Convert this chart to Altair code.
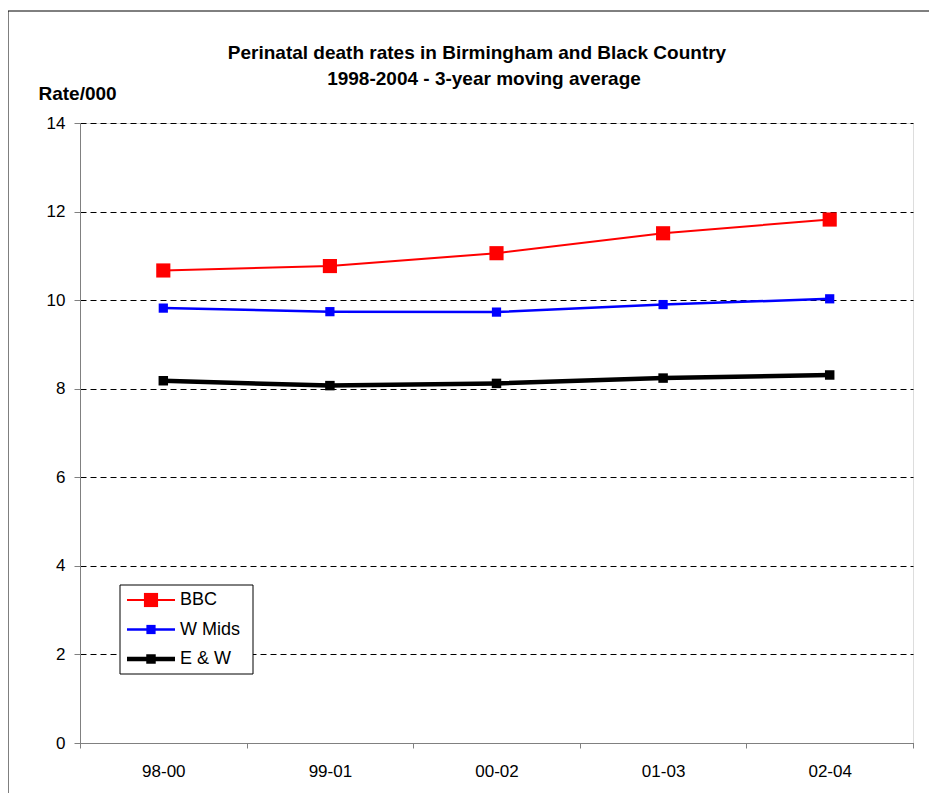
import altair as alt
import pandas as pd

periods = ["98-00", "99-01", "00-02", "01-03", "02-04"]
bbc = [10.67, 10.77, 11.06, 11.51, 11.82]
wmids = [9.82, 9.74, 9.73, 9.90, 10.03]
ew = [8.18, 8.07, 8.12, 8.24, 8.31]
series_names = ["BBC", "W Mids", "E & W"]
y_ticks = [0, 2, 4, 6, 8, 10, 12, 14]

title_lines = ["Perinatal death rates in Birmingham and Black Country",
               "1998-2004  - 3-year moving average"]

FONT = "Liberation Sans"
FS_TICK = 17
FS_TITLE = 19
FS_LEG = 18

styles = {
    "BBC": dict(color="#FF0000", width=2, size=200),
    "W Mids": dict(color="#0000FF", width=2.5, size=85),
    "E & W": dict(color="#000000", width=4.5, size=90),
}

rows = []
for name, vals in zip(series_names, [bbc, wmids, ew]):
    for p, v in zip(periods, vals):
        rows.append({"period": p, "series": name, "rate": v})
df = pd.DataFrame(rows)

W, H = 833, 620

x_enc = alt.X("period:N", sort=periods,
              scale=alt.Scale(type="band", paddingInner=0, paddingOuter=0),
              axis=alt.Axis(title=None, labelAngle=0, tickBand="extent",
                            domainColor="#808080", tickColor="#808080",
                            tickSize=5, labelPadding=15, labelFontSize=FS_TICK,
                            labelFont=FONT, labelColor="black", grid=False))
y_enc = alt.Y("rate:Q", scale=alt.Scale(domain=[0, 14], nice=False, zero=True),
              axis=alt.Axis(values=y_ticks, title="Rate/000", titleAngle=0,
                            titleAlign="left", titleBaseline="middle",
                            titleX=-42, titleY=-30, titleFontSize=FS_TITLE,
                            titleFont=FONT, titleFontWeight="bold", titleColor="black",
                            grid=True, gridDash=[6, 4], gridColor="black",
                            gridWidth=1, domainColor="#808080", tickColor="#808080",
                            tickSize=6, labelPadding=9, labelFontSize=FS_TICK,
                            labelFont=FONT, labelColor="black"))

layers = []

# outer frame (decoration)
frame = alt.Chart(alt.Data(values=[{}])).mark_rect(
    fill="transparent", stroke="black", strokeWidth=1
).encode(x=alt.value(-72), x2=alt.value(2000), y=alt.value(-112), y2=alt.value(2000))
layers.append(frame)

# title lines (decoration text)
tl = alt.Chart(alt.Data(values=[{"t": title_lines[0]}])).mark_text(
    align="center", baseline="middle", font=FONT, fontSize=FS_TITLE, fontWeight="bold",
    color="black").encode(x=alt.value(397), y=alt.value(-70), text="t:N")
t2 = alt.Chart(alt.Data(values=[{"t": title_lines[1]}])).mark_text(
    align="center", baseline="middle", font=FONT, fontSize=FS_TITLE, fontWeight="bold",
    color="black").encode(x=alt.value(404), y=alt.value(-44), text="t:N")
layers += [tl, t2]

base = alt.Chart(df)
axes_layer = base.mark_point(opacity=0).encode(x=x_enc, y=y_enc)
layers.append(axes_layer)

for name in series_names:
    st = styles[name]
    sub = base.transform_filter(alt.datum.series == name)
    layers.append(sub.mark_line(color=st["color"], strokeWidth=st["width"]).encode(
        x=alt.X("period:N", sort=periods), y="rate:Q"))
    layers.append(sub.mark_point(shape="square", filled=True, color=st["color"],
                                 size=st["size"], opacity=1).encode(
        x=alt.X("period:N", sort=periods), y="rate:Q"))

# legend (decoration)
leg = alt.Chart(alt.Data(values=[{}]))
layers.append(leg.mark_rect(fill="white", stroke="black", strokeWidth=1).encode(
    x=alt.value(40), x2=alt.value(173), y=alt.value(462), y2=alt.value(551)))
for i, name in enumerate(series_names):
    st = styles[name]
    ly = 477 + 29.5 * i
    ld = alt.Chart(alt.Data(values=[{"series": name}]))
    layers.append(ld.mark_rule(color=st["color"], strokeWidth=st["width"]).encode(
        x=alt.value(47), x2=alt.value(95), y=alt.value(ly)))
    layers.append(ld.mark_point(shape="square", filled=True, color=st["color"],
                                size=st["size"], opacity=1).encode(
        x=alt.value(71), y=alt.value(ly)))
    layers.append(ld.mark_text(align="left", baseline="middle", font=FONT,
                               fontSize=FS_LEG, color="black").encode(
        x=alt.value(100), y=alt.value(ly), text="series:N"))

chart = alt.layer(*layers).properties(
    width=W, height=H,
    autosize=alt.AutoSizeParams(type="none"),
    padding={"left": 72, "top": 115, "right": 16, "bottom": 50},
).configure_view(strokeWidth=0).configure(background="white")

chart.save("out.html", embed_options={"renderer": "svg", "actions": False})
